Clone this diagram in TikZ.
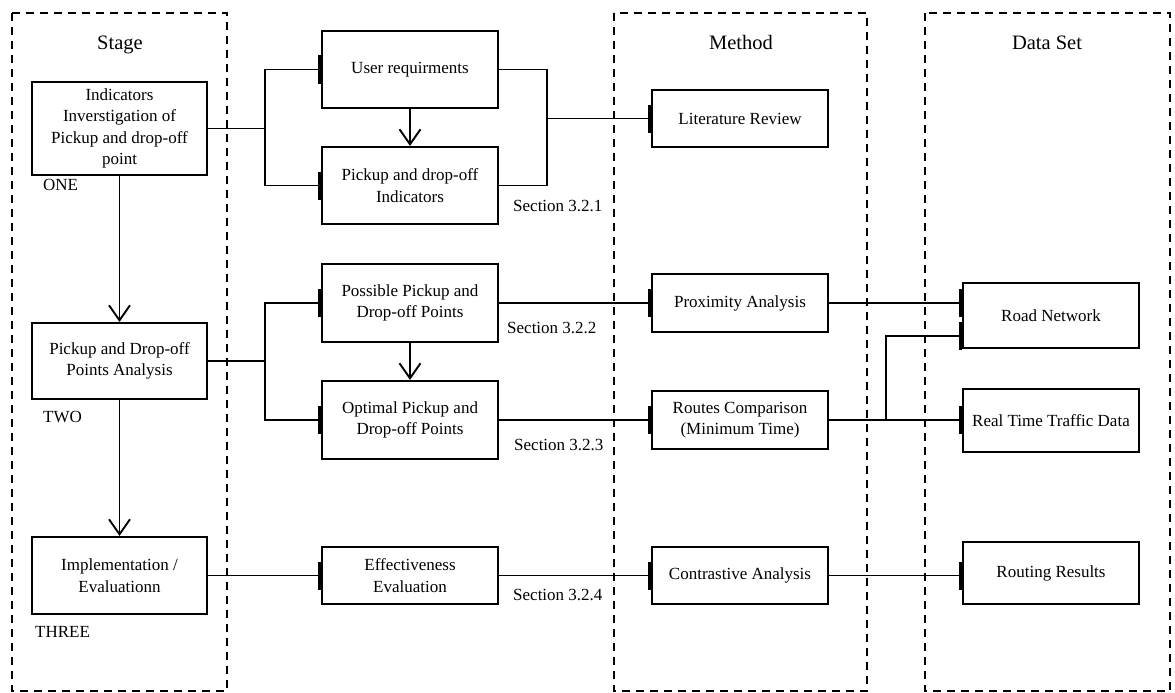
\documentclass[tikz,border=0pt]{standalone}
\usepackage{fontspec}
\setmainfont{Liberation Serif}
\usetikzlibrary{arrows.meta,positioning,calc}

\tikzset{
  box/.style={draw, line width=2.1pt, minimum width=176pt, align=center,
    inner sep=2pt, font=\fontsize{17}{21.5}\selectfont},
  frame/.style={draw, line width=2pt, dash pattern=on 8pt off 6pt},
  title/.style={anchor=base, font=\fontsize{20.5}{24}\selectfont},
  note/.style={anchor=west, inner sep=0pt, font=\fontsize{17}{20}\selectfont},
  link/.style={line width=1.8pt},
  bar/.style={link, -{Bar[width=28pt,line width=3.2pt]}},
  flow/.style={link, -{Straight Barb[length=15pt,width=21pt,line width=1.9pt]}}
}

\begin{document}
\begin{tikzpicture}[x=1pt,y=-1pt]
\useasboundingbox (0,0) rectangle (1175,693);

% column frames
\draw[frame] (12,13) rectangle (227,691);
\draw[frame] (614,13) rectangle (867,691);
\draw[frame] (925,13) rectangle (1170,691);

\node[title] (tstage) at (120,50) {Stage};
\node[title] (tmethod) at (741,50) {Method};
\node[title] (tdata) at (1047,50) {Data Set};

% stage boxes
\node[box, minimum width=175pt, minimum height=93pt] (s1) at (119.5,128.5)
  {Indicators\\ Inverstigation of\\ Pickup and drop-off\\ point};
\node[box, minimum width=175pt, minimum height=76pt] (s2) at (119.5,361)
  {Pickup and Drop-off\\ Points Analysis};
\node[box, minimum width=175pt, minimum height=77pt] (s3) at (119.5,575.5)
  {Implementation /\\ Evaluationn};

\node[note] (one) at (43,185) {ONE};
\node[note] (two) at (43,417) {TWO};
\node[note] (three) at (35,632) {THREE};

% middle boxes
\node[box, minimum height=77pt] (user) at (410,69.5) {User requirments};
\node[box, minimum height=77pt] (ind) at (410,185.5) {Pickup and drop-off\\ Indicators};
\node[box, minimum height=78pt] (pos) at (410,303) {Possible Pickup and\\ Drop-off Points};
\node[box, minimum height=78pt] (opt) at (410,420) {Optimal Pickup and\\ Drop-off Points};
\node[box, minimum height=57pt] (eff) at (410,575.5) {Effectiveness\\ Evaluation};

\node[note] (sec1) at (513,206) {Section 3.2.1};
\node[note] (sec2) at (507,328) {Section 3.2.2};
\node[note] (sec3) at (514,445) {Section 3.2.3};
\node[note] (sec4) at (513,595) {Section 3.2.4};

% method boxes
\node[box, minimum height=57pt] (lit) at (740,118.5) {Literature Review};
\node[box, minimum height=58pt] (prox) at (740,303) {Proximity Analysis};
\node[box, minimum height=58pt] (routes) at (740,420) {Routes Comparison\\ (Minimum Time)};
\node[box, minimum height=57pt] (contr) at (740,575.5) {Contrastive Analysis};

% data boxes
\node[box, minimum height=65pt] (road) at (1051,315.5) {Road Network};
\node[box, minimum height=63pt] (rttd) at (1051,420.5) {Real Time Traffic Data};
\node[box, minimum height=62pt] (rr) at (1051,573) {Routing Results};

% junction points
\coordinate (j1) at (265,128.5);
\coordinate (j2) at (547,118.5);
\coordinate (j3) at (265,361);
\coordinate (j4) at (886,420);

% stage one
\draw[link] (s1.east) -- (j1);
\draw[bar] (j1) |- (user.west);
\draw[bar] (j1) |- (ind.west);
\draw[flow] (user.south) -- (ind.north);
\draw[link] (user.east) -| (j2);
\draw[link] (ind.east) -| (j2);
\draw[bar] (j2) -- (lit.west);

% stage two
\draw[flow] (s1.south) -- (s2.north);
\draw[link] (s2.east) -- (j3);
\draw[bar] (j3) |- (pos.west);
\draw[bar] (j3) |- (opt.west);
\draw[flow] (pos.south) -- (opt.north);
\draw[bar] (pos.east) -- (prox.west);
\draw[bar] (opt.east) -- (routes.west);
\draw[bar] (prox.east) -- (prox.east -| road.west);
\draw[bar] (routes.east) -- (routes.east -| rttd.west);
\draw[bar] (j4) |- ([yshift=-20.5pt]road.west);

% stage three
\draw[flow] (s2.south) -- (s3.north);
\draw[bar] (s3.east) -- (eff.west);
\draw[bar] (eff.east) -- (contr.west);
\draw[bar] (contr.east) -- (contr.east -| rr.west);
\end{tikzpicture}
\end{document}
